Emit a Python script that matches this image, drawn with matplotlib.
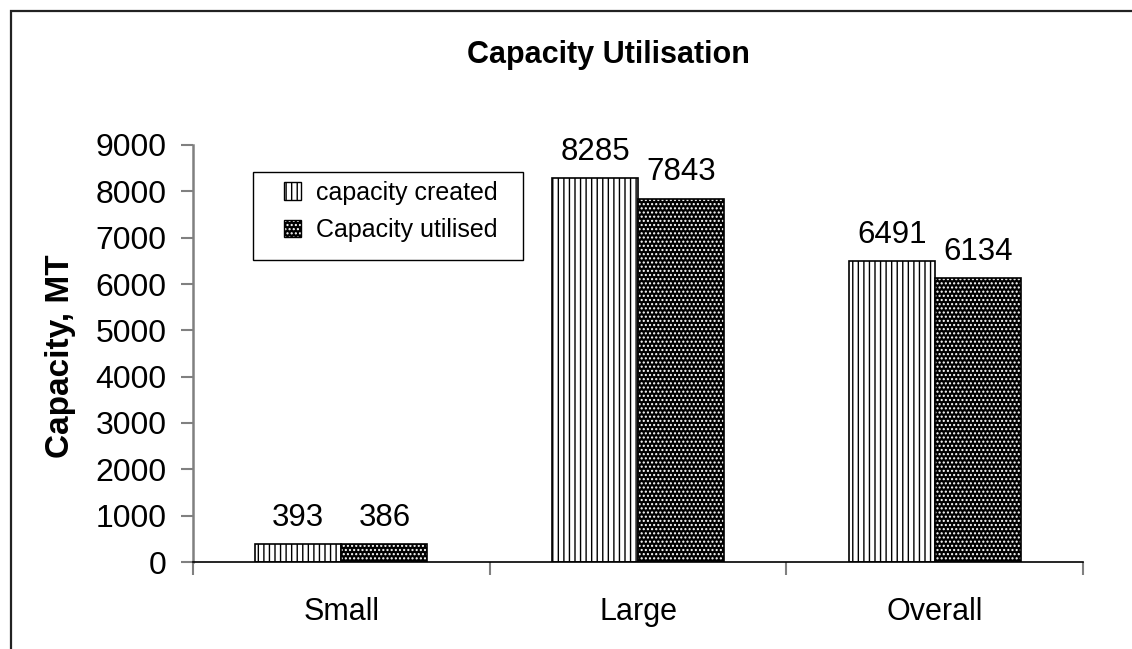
import numpy as np
import matplotlib.pyplot as plt
from matplotlib.patches import Patch, Rectangle

categories = ["Small", "Large", "Overall"]
capacity_created = [393, 8285, 6491]
capacity_utilised = [386, 7843, 6134]
series_names = ["capacity created", "Capacity utilised"]

plt.rcParams['font.family'] = ['Liberation Sans', 'DejaVu Sans']
plt.rcParams['hatch.linewidth'] = 1.0

W, H = 1132, 649
fig = plt.figure(figsize=(W / 100, H / 100), dpi=100)

# outer chart border (only top and left visible in the reference)
fig.patches.append(Rectangle((11 / W, -0.2), 1.5, 1.2 - 11 / H, transform=fig.transFigure,
                             fill=False, edgecolor='#222222', linewidth=1.6))

ax = fig.add_axes([193 / W, 1 - 562 / H, (1083 - 193) / W, (562 - 145) / H])

x = np.arange(len(categories))
bw = 0.29

ax.bar(x - bw / 2, capacity_created, bw, facecolor='white', edgecolor='black',
       hatch='|||', linewidth=1.2)
ax.bar(x + bw / 2, capacity_utilised, bw, facecolor='black', edgecolor='white',
       hatch='....', linewidth=0)
ax.bar(x + bw / 2, capacity_utilised, bw, fill=False, edgecolor='black', linewidth=1.2)

for xi, v in zip(x - bw / 2, capacity_created):
    ax.annotate(str(v), (xi, v), xytext=(0, 8), textcoords='offset points',
                ha='center', va='bottom', fontsize=22.5)
for xi, v in zip(x + bw / 2, capacity_utilised):
    ax.annotate(str(v), (xi, v), xytext=(0, 8), textcoords='offset points',
                ha='center', va='bottom', fontsize=22.5)

ax.set_xlim(-0.5, 2.5)
ax.set_ylim(0, 9000)
ax.set_yticks(np.arange(0, 9001, 1000))
ax.set_xticks(x)
ax.set_xticklabels(categories)
ax.set_xticks(np.arange(-0.5, 2.6, 1), minor=True)
ax.tick_params(axis='x', which='major', length=0, labelsize=22, pad=25)
ax.tick_params(axis='x', which='minor', length=9, color='#808080', width=1.5)
ax.tick_params(axis='y', length=9, color='#808080', width=1.5, labelsize=23, pad=10)

for s in ['top', 'right']:
    ax.spines[s].set_visible(False)
ax.spines['left'].set_color('#808080')
ax.spines['left'].set_linewidth(1.8)
ax.spines['bottom'].set_color('black')
ax.spines['bottom'].set_linewidth(1.2)

fig.text(61 / W, 1 - 356 / H, 'Capacity, MT', rotation=90, ha='center', va='center',
         fontsize=24, fontweight='bold')
fig.text(608 / W, 1 - 55 / H, 'Capacity Utilisation', ha='center', va='center',
         fontsize=22, fontweight='bold')

# legend box drawn separately so its padding matches the reference
fig.patches.append(Rectangle((253 / W, 1 - 260 / H), (523 - 253) / W, 88 / H,
                             transform=fig.transFigure, facecolor='white',
                             edgecolor='black', linewidth=1.0, zorder=3))
handles = [Patch(facecolor='white', edgecolor='black', hatch='|||', linewidth=1),
           (Patch(facecolor='black', edgecolor='white', hatch='....', linewidth=0),
            Patch(fill=False, edgecolor='black', linewidth=1))]
leg = fig.legend(handles, series_names, loc='upper left',
                 bbox_to_anchor=(276 / W, 1 - 173 / H), bbox_transform=fig.transFigure,
                 fontsize=18, frameon=False, borderaxespad=0, borderpad=0.3,
                 handlelength=0.7, handleheight=0.7, handletextpad=0.6,
                 labelspacing=0.55)
leg.set_zorder(4)

fig.savefig('out.png', dpi=100)
